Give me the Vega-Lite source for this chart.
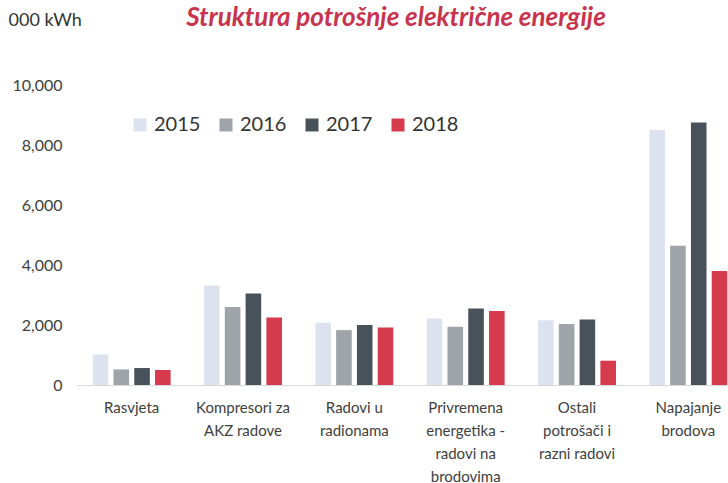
{
  "$schema": "https://vega.github.io/schema/vega-lite/v6.json",
  "width": 652,
  "height": 300,
  "autosize": {"type": "none"},
  "padding": {"left": 76, "top": 85, "right": 0, "bottom": 98},
  "background": "white",
  "title": {
    "text": "Struktura potrošnje električne energije",
    "anchor": "middle",
    "frame": "group",
    "font": "Lato",
    "fontSize": 26,
    "fontWeight": "bold",
    "fontStyle": "italic",
    "color": "#c9334d",
    "offset": -20,
    "dx": -6
  },
  "config": {"view": {"stroke": null}, "font": "Lato"},
  "data": {
    "values": [
      {"kategorija": "Rasvjeta", "godina": "2015", "vrijednost": 1020},
      {"kategorija": "Rasvjeta", "godina": "2016", "vrijednost": 520},
      {"kategorija": "Rasvjeta", "godina": "2017", "vrijednost": 565},
      {"kategorija": "Rasvjeta", "godina": "2018", "vrijednost": 500},
      {"kategorija": "Kompresori za AKZ radove", "godina": "2015", "vrijednost": 3320},
      {"kategorija": "Kompresori za AKZ radove", "godina": "2016", "vrijednost": 2600},
      {"kategorija": "Kompresori za AKZ radove", "godina": "2017", "vrijednost": 3050},
      {"kategorija": "Kompresori za AKZ radove", "godina": "2018", "vrijednost": 2250},
      {"kategorija": "Radovi u radionama", "godina": "2015", "vrijednost": 2080},
      {"kategorija": "Radovi u radionama", "godina": "2016", "vrijednost": 1830},
      {"kategorija": "Radovi u radionama", "godina": "2017", "vrijednost": 2000},
      {"kategorija": "Radovi u radionama", "godina": "2018", "vrijednost": 1920},
      {"kategorija": "Privremena energetika - radovi na brodovima", "godina": "2015", "vrijednost": 2215},
      {"kategorija": "Privremena energetika - radovi na brodovima", "godina": "2016", "vrijednost": 1940},
      {"kategorija": "Privremena energetika - radovi na brodovima", "godina": "2017", "vrijednost": 2550},
      {"kategorija": "Privremena energetika - radovi na brodovima", "godina": "2018", "vrijednost": 2470},
      {"kategorija": "Ostali potrošači i razni radovi", "godina": "2015", "vrijednost": 2160},
      {"kategorija": "Ostali potrošači i razni radovi", "godina": "2016", "vrijednost": 2030},
      {"kategorija": "Ostali potrošači i razni radovi", "godina": "2017", "vrijednost": 2180},
      {"kategorija": "Ostali potrošači i razni radovi", "godina": "2018", "vrijednost": 810},
      {"kategorija": "Napajanje brodova", "godina": "2015", "vrijednost": 8500},
      {"kategorija": "Napajanje brodova", "godina": "2016", "vrijednost": 4640},
      {"kategorija": "Napajanje brodova", "godina": "2017", "vrijednost": 8750},
      {"kategorija": "Napajanje brodova", "godina": "2018", "vrijednost": 3800}
    ]
  },
  "mark": {"type": "bar"},
  "encoding": {
    "x": {
      "field": "kategorija",
      "type": "nominal",
      "sort": null,
      "scale": {"range": [0, 668], "paddingInner": 0.3, "paddingOuter": 0.15},
      "axis": {
        "title": null,
        "labelAngle": 0,
        "labelFont": "Lato",
        "labelFontSize": 15,
        "labelColor": "#404040",
        "labelLineHeight": 23,
        "labelPadding": 15,
        "ticks": false,
        "tickSize": 0,
        "domainColor": "#d9d9d9",
        "labelExpr": "{'Rasvjeta':['Rasvjeta'],'Kompresori za AKZ radove':['Kompresori za','AKZ radove'],'Radovi u radionama':['Radovi u','radionama'],'Privremena energetika - radovi na brodovima':['Privremena','energetika -','radovi na','brodovima'],'Ostali potrošači i razni radovi':['Ostali','potrošači i','razni radovi'],'Napajanje brodova':['Napajanje','brodova']}[datum.label]"
      }
    },
    "xOffset": {"field": "godina", "type": "nominal", "scale": {"paddingInner": 0.25}},
    "y": {
      "field": "vrijednost",
      "type": "quantitative",
      "scale": {"domain": [0, 10000]},
      "axis": {
        "title": "000 kWh",
        "titleAngle": 0,
        "titleX": -68,
        "titleY": -65,
        "titleAlign": "left",
        "titleBaseline": "middle",
        "titleFont": "Lato",
        "titleFontSize": 18,
        "titleFontWeight": "normal",
        "titleColor": "#333333",
        "values": [0, 2000, 4000, 6000, 8000, 10000],
        "format": ",d",
        "grid": false,
        "domain": false,
        "ticks": false,
        "tickSize": 0,
        "labelPadding": 14,
        "labelFont": "Lato",
        "labelFontSize": 16,
        "labelColor": "#404040"
      }
    },
    "color": {
      "field": "godina",
      "type": "nominal",
      "scale": {
        "domain": ["2015", "2016", "2017", "2018"],
        "range": ["#dce3ef", "#9ea4a9", "#48525a", "#d63a4d"]
      },
      "legend": {
        "title": null,
        "orient": "none",
        "direction": "horizontal",
        "legendX": 54,
        "legendY": 30,
        "symbolType": "square",
        "symbolSize": 169,
        "symbolStrokeWidth": 0,
        "labelFont": "Lato",
        "labelFontSize": 20,
        "labelColor": "#333333",
        "labelOffset": 4,
        "columnPadding": 15
      }
    }
  }
}
